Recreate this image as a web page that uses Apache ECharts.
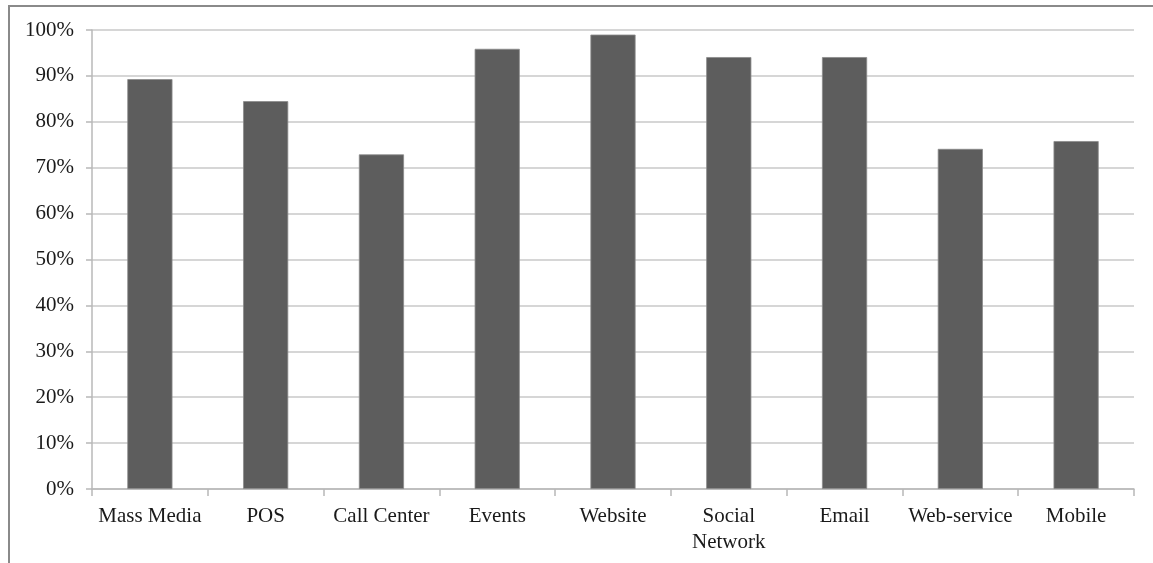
<!DOCTYPE html>
<html>
<head>
<meta charset="utf-8">
<script src="https://cdn.jsdelivr.net/npm/echarts@6/dist/echarts.min.js"></script>
<style>
  html, body { margin: 0; padding: 0; background: #fff; }
  #chart { width: 1153px; height: 563px; }
  #frame {
    position: absolute; left: 8px; top: 5px; right: 0; bottom: 0;
    border-top: 2px solid #8a8a8a; border-left: 2px solid #8a8a8a;
    pointer-events: none;
  }
</style>
</head>
<body>
<div id="chart"></div>
<div id="frame"></div>
<script>
// Share of respondents per communication channel
const categories = ['Mass Media', 'POS', 'Call Center', 'Events', 'Website',
  'Social\nNetwork', 'Email', 'Web-service', 'Mobile'];
const shares = [89.3, 84.5, 72.9, 95.9, 99.0, 94.1, 94.1, 74.1, 75.8];
const yTicks = { min: 0, max: 100, step: 10 };

const font = '"Liberation Serif", "Times New Roman", serif';
const chart = echarts.init(document.getElementById('chart'), null, { renderer: 'canvas' });
chart.setOption({
  animation: false,
  grid: { left: 92, right: 19, top: 30, bottom: 74 },
  xAxis: {
    type: 'category',
    data: categories,
    axisLine: { lineStyle: { color: '#b8b8b8', width: 1.5 } },
    axisTick: { show: true, length: 7, interval: 0, lineStyle: { color: '#b8b8b8', width: 1.5 } },
    axisLabel: {
      interval: 0, margin: 14,
      fontFamily: font, fontSize: 21, color: '#1a1a1a', lineHeight: 26
    }
  },
  yAxis: {
    type: 'value',
    min: yTicks.min, max: yTicks.max, interval: yTicks.step,
    axisLine: { show: true, lineStyle: { color: '#b8b8b8', width: 1.5 } },
    axisTick: { show: true, length: 6, lineStyle: { color: '#b8b8b8', width: 1.5 } },
    splitLine: { lineStyle: { color: '#c8c8c8', width: 1.5 } },
    axisLabel: {
      margin: 18,
      fontFamily: font, fontSize: 21, color: '#1a1a1a',
      formatter: v => v + '%'
    }
  },
  series: [{
    type: 'bar',
    data: shares,
    barWidth: '39%',
    itemStyle: { color: '#5d5d5d', borderColor: '#8c8c8c', borderWidth: 0.8 }
  }]
});
</script>
</body>
</html>
